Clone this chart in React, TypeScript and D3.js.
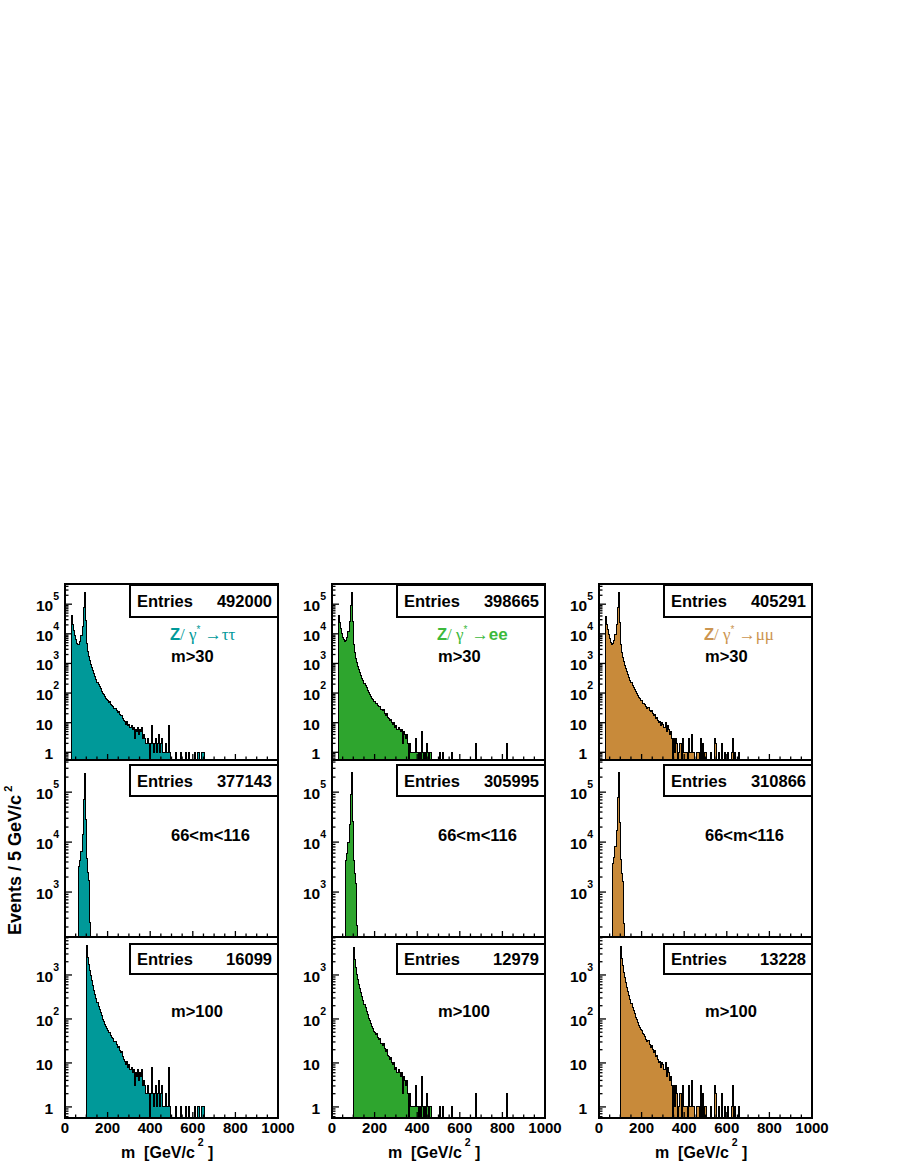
import React from 'react';
import * as d3 from 'd3';

// bin width 5 GeV, top row histograms start at 30 GeV
const BIN = 5;
const TOP_START = 30;
const MID_START = 65;
const BOT_START = 100;

const tauCounts = [
  40000, 20000, 12500, 8500, 6200, 4800, 4200, 4300, 5500, 8500,
  18000, 75000, 240000, 28000, 4600, 2500, 1700, 1250, 950, 730,
  570, 450, 360, 290, 235, 195, 165, 138, 117, 99,
  86, 74, 66, 60, 56, 48, 50, 42, 38, 36,
  30, 31, 26, 22, 24, 19, 17, 18, 14, 12,
  11, 9, 11, 8, 9, 7, 8, 6, 7, 3,
  6, 5, 7, 4, 6, 5, 7, 3, 4, 3,
  2, 3, 2, 0, 2, 8, 2, 1, 2, 3,
  1, 2, 4, 1, 2, 3, 1, 1, 2, 1,
  1, 8, 1, 0, 0, 0, 0, 0, 1, 0,
  0, 0, 1, 0, 0, 0, 0, 1, 0, 0,
  1, 0, 0, 0, 0, 0, 1, 0, 1, 1,
  0, 0, 1, 1, 1,
];

const eeCounts = [
  42000, 24000, 15000, 10500, 7800, 6200, 5500, 5800, 7500, 12000,
  26000, 90000, 250000, 26000, 4300, 2300, 1500, 1050, 800, 620,
  490, 400, 320, 260, 215, 180, 150, 125, 105, 90,
  78, 68, 60, 52, 50, 44, 46, 38, 34, 36,
  28, 25, 27, 21, 18, 20, 15, 14, 12, 13,
  10, 9, 10, 7, 8, 6, 7, 6, 5, 6,
  2, 5, 4, 3, 4, 2, 0, 2, 1, 1,
  1, 1, 3, 1, 1, 0, 1, 0, 5, 1,
  0, 1, 0, 2, 1, 0, 1, 0, 0, 0,
  0, 0, 0, 0, 0, 1, 0, 0, 1, 0,
  0, 0, 0, 0, 0, 0, 1, 0, 0, 0,
  0, 0, 0, 0, 0, 0, 0, 0, 0, 0,
  0, 0, 0, 0, 0, 0, 0, 0, 0, 2,
  0, 0, 0, 0, 0, 0, 0, 0, 0, 0,
  0, 0, 0, 0, 0, 0, 0, 0, 0, 0,
  0, 0, 0, 0, 0, 0, 0, 0, 2,
];

const mumuCounts = [
  38000, 21000, 13500, 9200, 6800, 5200, 4500, 4700, 6000, 9500,
  20000, 80000, 245000, 25000, 4400, 2400, 1600, 1150, 870, 670,
  530, 420, 340, 275, 225, 185, 155, 130, 110, 95,
  82, 72, 64, 58, 54, 46, 44, 40, 35, 30,
  32, 26, 23, 25, 20, 17, 19, 14, 15, 12,
  10, 11, 8, 10, 9, 7, 10, 5, 8, 6,
  4, 5, 3, 0, 3, 1, 3, 2, 0, 1,
  2, 0, 3, 1, 1, 1, 1, 0, 3, 1,
  1, 4, 1, 1, 0, 0, 1, 1, 0, 3,
  0, 2, 0, 1, 1, 0, 0, 0, 0, 1,
  0, 0, 3, 2, 0, 0, 1, 0, 0, 2,
  0, 0, 1, 0, 0, 1, 0, 0, 1, 3,
  0, 1, 0, 0, 0, 1,
];

// 66<m<116 selection, bins from 65 GeV
const tauMid = [3300, 4300, 6500, 14000, 72000, 240000, 28000, 4600, 2500, 1700, 250];
const eeMid = [4300, 6000, 10000, 22000, 88000, 250000, 26000, 4300, 2300, 1500, 210];
const mumuMid = [3700, 5000, 8000, 17000, 78000, 245000, 25000, 4400, 2400, 1600, 230];

const fills = ['#009999', '#2ea52e', '#c88a3a'];
const labelColors = ['#009999', '#3cb93c', '#cc9550'];
const decayTo = ['\u03c4\u03c4', 'ee', '\u03bc\u03bc'];
const greekDecay = [true, false, true];
const entriesTop = [492000, 398665, 405291];
const entriesMid = [377143, 305995, 310866];
const entriesBot = [16099, 12979, 13228];
const cutLabels = ['m>30', '66<m<116', 'm>100'];
const xTickLabels = [0, 200, 400, 600, 800, 1000];

const colX = [65, 332, 599];
const PW = 213;
const rowY = [[584, 760], [760, 937], [937, 1118]];
const yDomains: [number, number][] = [[0.55, 4.8e5], [126, 4.4e5], [0.56, 7300]];
const boxY = [[585, 617], [765, 796], [944, 974]];

const FONT = 'Liberation Sans, Arial, Helvetica, sans-serif';
const SYM = 'Liberation Serif, Times New Roman, serif';

function Panel({ col, row, values, start }: { col: number; row: number; values: number[]; start: number }) {
  const x0 = colX[col];
  const [y0, y1] = rowY[row];
  const xs = d3.scaleLinear().domain([0, 1000]).range([x0, x0 + PW]);
  const ys = d3.scaleLog().domain(yDomains[row]).range([y1, y0]);
  const ymin = yDomains[row][0];
  const yv = (v: number) => ys(Math.max(v, ymin));

  const pts: [number, number][] = values.map((v, i) => [start + i * BIN, v]);
  const end = start + values.length * BIN;
  const linePts: [number, number][] = [[start, 0], ...pts, [end, values[values.length - 1]], [end, 0]];
  const line = d3.line<[number, number]>().x(d => xs(d[0])).y(d => yv(d[1])).curve(d3.curveStepAfter);
  const area = d3.area<[number, number]>().x(d => xs(d[0])).y0(y1).y1(d => yv(d[1])).curve(d3.curveStepAfter);

  const yt = ys.ticks().filter(t => t >= yDomains[row][0] && t <= yDomains[row][1]);
  const xt = d3.range(0, 1001, 50);
  const entries = [entriesTop, entriesMid, entriesBot][row][col];

  return (
    <g>
      <path d={area([...pts, [end, values[values.length - 1]]]) || ''} fill={fills[col]} stroke="none" />
      <path d={line(linePts) || ''} fill="none" stroke="#000" strokeWidth={1} shapeRendering="crispEdges" />
      {yt.map(t => {
        const e = Math.log10(t);
        const major = Math.abs(e - Math.round(e)) < 1e-6;
        return <line key={'y' + t} x1={x0} x2={x0 + (major ? 7 : 3.5)} y1={ys(t)} y2={ys(t)} stroke="#000" strokeWidth={1.3} />;
      })}
      {xt.map(t => (
        <line key={'x' + t} x1={xs(t)} x2={xs(t)} y1={y1} y2={y1 - (t % 200 === 0 ? 6 : 3.5)} stroke="#000" strokeWidth={1.3} />
      ))}
      {yt.filter(t => Math.abs(Math.log10(t) - Math.round(Math.log10(t))) < 1e-6).map(t => {
        const e = Math.round(Math.log10(t));
        const y = ys(t);
        if (e <= 1) {
          return <text key={'l' + t} x={x0 - 12} y={y + 7} textAnchor="end" fontSize={15.5} fontWeight="bold" fontFamily={FONT}>{t}</text>;
        }
        return (
          <text key={'l' + t} x={x0 - 6} y={y + 7} textAnchor="end" fontSize={15.5} fontWeight="bold" fontFamily={FONT}>
            10<tspan fontSize={10.5} dy={-11}>{e}</tspan>
          </text>
        );
      })}
      <rect x={x0} y={y0} width={PW} height={y1 - y0} fill="none" stroke="#000" strokeWidth={2} />
      <rect x={x0 + 65} y={boxY[row][0]} width={PW - 65} height={boxY[row][1] - boxY[row][0]} fill="#fff" stroke="#000" strokeWidth={2} />
      <text x={x0 + 72} y={(boxY[row][0] + boxY[row][1]) / 2 + 6} fontSize={16.5} fontWeight="bold" fontFamily={FONT}>Entries</text>
      <text x={x0 + 207} y={(boxY[row][0] + boxY[row][1]) / 2 + 6} textAnchor="end" fontSize={16.5} fontWeight="bold" fontFamily={FONT}>{entries}</text>
      {row === 0 && (
        <text x={x0 + 105} y={640} fill={labelColors[col]} fontSize={16.5} fontFamily={FONT}>
          <tspan fontWeight="bold">Z</tspan>
          <tspan fontFamily={SYM} fontSize={17}>/{'\u00a0'}{'\u03b3'}</tspan>
          <tspan fontSize={10} dy={-7}>*</tspan>
          <tspan fontFamily={SYM} fontSize={17} dy={7}>{'\u00a0\u2192'}</tspan>
          <tspan fontFamily={greekDecay[col] ? SYM : FONT} fontWeight={greekDecay[col] ? 'normal' : 'bold'} fontSize={17}>{decayTo[col]}</tspan>
        </text>
      )}
      <text x={x0 + 106} y={row === 0 ? 661.5 : row === 1 ? 841 : 1017} fontSize={16.5} fontWeight="bold" fontFamily={FONT}>{cutLabels[row]}</text>
      {row === 2 && xTickLabels.map(t => (
        <text key={'xl' + t} x={xs(t)} y={1133} textAnchor="middle" fontSize={15} fontWeight="bold" fontFamily={FONT}>{t}</text>
      ))}
      {row === 2 && (
        <text x={x0 + 56} y={1158} fontSize={16} fontWeight="bold" fontFamily={FONT}>
          {'m\u00a0\u00a0[GeV/c'}<tspan fontSize={10.5} dy={-12}>{'\u00a02'}</tspan><tspan dy={12}>{'\u00a0]'}</tspan>
        </text>
      )}
    </g>
  );
}

export default function App() {
  const tops = [tauCounts, eeCounts, mumuCounts];
  const mids = [tauMid, eeMid, mumuMid];
  return (
    <svg width={900} height={1164} style={{ position: 'absolute', left: 0, top: 0, background: '#fff' }}>
      <rect width={900} height={1164} fill="#fff" />
      {[0, 1, 2].map(c => (
        <g key={c}>
          <Panel col={c} row={0} values={tops[c]} start={TOP_START} />
          <Panel col={c} row={1} values={mids[c]} start={MID_START} />
          <Panel col={c} row={2} values={tops[c].slice((BOT_START - TOP_START) / BIN)} start={BOT_START} />
        </g>
      ))}
      <text transform="translate(21,935) rotate(-90)" fontSize={18} fontWeight="bold" fontFamily={FONT}>
        Events / 5 GeV/c<tspan fontSize={11} dy={-9}>{'\u00a02'}</tspan>
      </text>
    </svg>
  );
}
